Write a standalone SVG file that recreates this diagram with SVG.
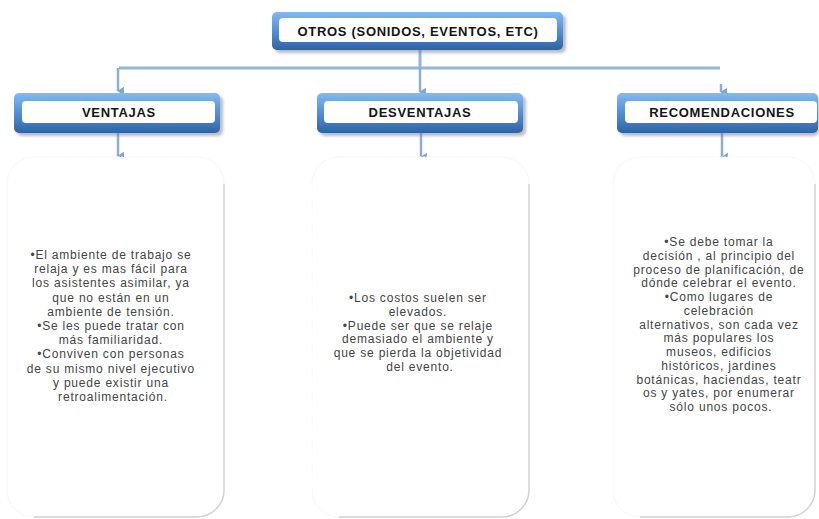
<svg xmlns="http://www.w3.org/2000/svg" width="819" height="519" viewBox="0 0 819 519">
  <defs>
    <linearGradient id="frameGrad" x1="0" y1="0" x2="0" y2="1">
      <stop offset="0" stop-color="#86b9ee"/>
      <stop offset="0.45" stop-color="#5594da"/>
      <stop offset="1" stop-color="#2f63a3"/>
    </linearGradient>
    <filter id="soft" x="-10%" y="-30%" width="120%" height="160%">
      <feGaussianBlur stdDeviation="1.5"/>
    </filter>
    <marker id="arrow" viewBox="0 0 10 10" refX="5" refY="9" markerWidth="3.4" markerHeight="3.4" orient="auto-start-reverse" markerUnits="strokeWidth">
      <path d="M0,2 L10,2 L5,10 Z" fill="#7fa5d4"/>
    </marker>
    <style>
      .conn { stroke: #94b4da; stroke-width: 3; fill: none; }
      .stub { stroke: #8aaed8; stroke-width: 2.5; fill: none; }
      .shadow { fill: #7d8797; opacity: 0.55; }
      .frame { fill: url(#frameGrad); }
      .inner { fill: #ffffff; }
      .label { font-family: "Liberation Sans", Arial, sans-serif; font-weight: bold; font-size: 13px; letter-spacing: 0.7px; fill: #151515; text-anchor: middle; }
      .panel { fill: #ffffff; stroke: #f4f4f4; stroke-width: 1; stroke-dasharray: 2 1; }
      .panelEdge { fill: none; stroke: #d2d2d2; stroke-width: 1.5; }
      .body { font-family: "Liberation Sans", Arial, sans-serif; font-size: 12px; letter-spacing: 0.8px; fill: #444444; text-anchor: middle; }
    </style>
  </defs>

  <rect width="819" height="519" fill="#ffffff"/>

  <!-- connectors -->
  <g id="connectors">
    <line class="conn" x1="420" y1="50" x2="420" y2="68"/>
    <line class="conn" x1="119" y1="68" x2="720" y2="68"/>
    <line class="stub" x1="118" y1="68" x2="118" y2="91" marker-end="url(#arrow)"/>
    <line class="stub" x1="420" y1="68" x2="420" y2="92" marker-end="url(#arrow)"/>
    <line class="stub" x1="721" y1="84" x2="721" y2="92" marker-end="url(#arrow)"/>
    <line class="stub" x1="118" y1="133" x2="118" y2="156" marker-end="url(#arrow)"/>
    <line class="stub" x1="421" y1="133" x2="421" y2="157" marker-end="url(#arrow)"/>
    <line class="stub" x1="722" y1="133" x2="722" y2="157" marker-end="url(#arrow)"/>
  </g>

  <!-- header nodes -->
  <g id="node-otros">
    <rect class="shadow" x="275" y="15" width="291" height="38" rx="5" filter="url(#soft)"/>
    <rect class="frame" x="272" y="12" width="291" height="38" rx="5"/>
    <rect class="inner" x="279" y="18" width="278" height="24" rx="4"/>
    <text class="label" x="418" y="35.5">OTROS (SONIDOS, EVENTOS, ETC)</text>
  </g>

  <g id="node-ventajas">
    <rect class="shadow" x="17" y="96" width="206" height="40" rx="5" filter="url(#soft)"/>
    <rect class="frame" x="14" y="93" width="206" height="40" rx="5"/>
    <rect class="inner" x="22" y="101" width="193" height="22" rx="4"/>
    <text class="label" x="119" y="116.5">VENTAJAS</text>
  </g>

  <g id="node-desventajas">
    <rect class="shadow" x="320" y="96" width="206" height="40" rx="5" filter="url(#soft)"/>
    <rect class="frame" x="317" y="93" width="206" height="40" rx="5"/>
    <rect class="inner" x="324" y="101" width="194" height="22" rx="4"/>
    <text class="label" x="420" y="116.5">DESVENTAJAS</text>
  </g>

  <g id="node-recomendaciones">
    <rect class="shadow" x="620" y="96" width="199" height="40" rx="5" filter="url(#soft)"/>
    <rect class="frame" x="617" y="93" width="201" height="40" rx="5"/>
    <rect class="inner" x="625" y="101" width="192" height="22" rx="4"/>
    <text class="label" x="722" y="116.5">RECOMENDACIONES</text>
  </g>

  <!-- detail panels -->
  <g id="panel-ventajas">
    <rect class="panel" x="7" y="157" width="217" height="360" rx="27"/>
    <path class="panelEdge" d="M224,184 V490 A27,27 0 0 1 197,517 H34"/>
    <text class="body">
      <tspan x="113" y="259">•El ambiente de trabajo se</tspan>
      <tspan x="113" dy="14.2">relaja y es mas fácil para</tspan>
      <tspan x="113" dy="14.2">los asistentes asimilar, ya</tspan>
      <tspan x="113" dy="14.2">que no están en un</tspan>
      <tspan x="113" dy="14.2">ambiente de tensión.</tspan>
      <tspan x="113" dy="14.2">•Se les puede tratar con</tspan>
      <tspan x="113" dy="14.2">más familiaridad.</tspan>
      <tspan x="113" dy="14.2">•Conviven con personas</tspan>
      <tspan x="113" dy="14.2">de su mismo nivel ejecutivo</tspan>
      <tspan x="113" dy="14.2">y puede existir una</tspan>
      <tspan x="113" dy="14.2">retroalimentación.</tspan>
    </text>
  </g>

  <g id="panel-desventajas">
    <rect class="panel" x="312" y="157" width="217" height="360" rx="27"/>
    <path class="panelEdge" d="M529,184 V490 A27,27 0 0 1 502,517 H339"/>
    <text class="body">
      <tspan x="420" y="302">•Los costos suelen ser</tspan>
      <tspan x="420" dy="13.8">elevados.</tspan>
      <tspan x="420" dy="13.8">•Puede ser que se relaje</tspan>
      <tspan x="420" dy="13.8">demasiado el ambiente y</tspan>
      <tspan x="420" dy="13.8">que se pierda la objetividad</tspan>
      <tspan x="420" dy="13.8">del evento.</tspan>
    </text>
  </g>

  <g id="panel-recomendaciones">
    <rect class="panel" x="613" y="157" width="202" height="360" rx="27"/>
    <path class="panelEdge" d="M815,184 V490 A27,27 0 0 1 788,517 H640"/>
    <text class="body">
      <tspan x="721" y="246">•Se debe tomar la</tspan>
      <tspan x="721" dy="13.75">decisión , al principio del</tspan>
      <tspan x="721" dy="13.75">proceso de planificación, de</tspan>
      <tspan x="721" dy="13.75">dónde celebrar el evento.</tspan>
      <tspan x="721" dy="13.75">•Como lugares de</tspan>
      <tspan x="721" dy="13.75">celebración</tspan>
      <tspan x="721" dy="13.75">alternativos, son cada vez</tspan>
      <tspan x="721" dy="13.75">más populares los</tspan>
      <tspan x="721" dy="13.75">museos, edificios</tspan>
      <tspan x="721" dy="13.75">históricos, jardines</tspan>
      <tspan x="721" dy="13.75">botánicas, haciendas, teatr</tspan>
      <tspan x="721" dy="13.75">os y yates, por enumerar</tspan>
      <tspan x="721" dy="13.75">sólo unos pocos.</tspan>
    </text>
  </g>
</svg>
